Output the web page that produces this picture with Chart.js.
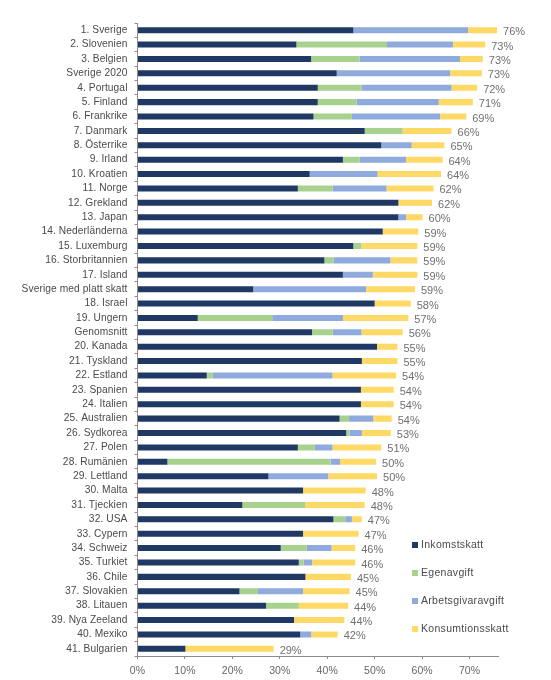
<!DOCTYPE html>
<html>
<head>
<meta charset="utf-8">
<script src="https://cdn.jsdelivr.net/npm/chart.js@4"></script>
<style>
  body { margin: 0; background: #fff; }
  #wrap { width: 551px; height: 680px; position: relative; }
</style>
</head>
<body>
<div id="wrap"><canvas id="skatt"></canvas></div>
<script>
const kategorier = ['1. Sverige','2. Slovenien','3. Belgien','Sverige 2020','4. Portugal','5. Finland','6. Frankrike',
  '7. Danmark','8. Österrike','9. Irland','10. Kroatien','11. Norge','12. Grekland','13. Japan','14. Nederländerna',
  '15. Luxemburg','16. Storbritannien','17. Island','Sverige med platt skatt','18. Israel','19. Ungern','Genomsnitt',
  '20. Kanada','21. Tyskland','22. Estland','23. Spanien','24. Italien','25. Australien','26. Sydkorea','27. Polen',
  '28. Rumänien','29. Lettland','30. Malta','31. Tjeckien','32. USA','33. Cypern','34. Schweiz','35. Turkiet',
  '36. Chile','37. Slovakien','38. Litauen','39. Nya Zeeland','40. Mexiko','41. Bulgarien'];

const inkomstskatt = [45.5,33.5,36.6,42.0,38.0,38.0,37.1,47.9,51.4,43.3,36.3,33.8,55.0,55.0,51.7,45.5,39.4,43.3,24.4,50.0,
  12.7,36.8,50.5,47.3,14.6,47.1,47.1,42.6,44.0,33.8,6.3,27.6,34.9,22.1,41.3,34.9,30.2,34.0,35.4,21.5,27.1,33.0,34.3,10.1];
const egenavgift = [0,19.1,10.2,0,9.2,8.2,8.1,8.0,0,3.5,0,7.3,0,0,0,1.7,1.9,0,0,0,
  15.7,4.3,0,0,1.2,0,0,2.0,0.7,3.6,34.4,0,0,13.3,2.5,0,5.5,1.0,0,3.9,6.9,0,0,0];
const arbetsgivaravgift = [24.2,13.9,21.2,23.9,19.0,17.3,18.6,0,6.4,9.8,14.3,11.4,0,1.6,0,0,12.0,6.3,23.8,0,
  14.9,6.1,0,0,25.3,0,0,5.1,2.6,3.7,2.0,12.6,0,0,1.4,0,5.2,1.8,0,9.5,0,0,2.3,0];
const konsumtionsskatt = [6.1,6.8,4.8,6.7,5.4,7.2,5.5,10.3,6.9,7.7,13.4,9.9,7.1,3.5,7.5,11.8,5.7,9.4,10.3,7.6,
  13.8,8.7,4.3,7.5,13.4,6.9,6.9,3.9,6.1,10.3,7.6,10.3,13.2,12.5,2.1,11.7,5.0,9.1,9.6,9.8,10.4,10.6,5.6,18.6];
const totalEtiketter = ['76%','73%','73%','73%','72%','71%','69%','66%','65%','64%','64%','62%','62%','60%','59%',
  '59%','59%','59%','59%','58%','57%','56%','55%','55%','54%','54%','54%','54%','53%','51%','50%','50%','48%','48%',
  '47%','47%','46%','46%','45%','45%','44%','44%','42%','29%'];
const xTicks = [0,10,20,30,40,50,60,70];

const FONT = "'Liberation Sans', Arial, sans-serif";
const textfarg = '#4a4a4a';
const axelfarg = '#8c8c8c';

// totals on the right of each bar
const totalPlugin = {
  id: 'totaler',
  afterDatasetsDraw(chart) {
    const ctx = chart.ctx;
    const xs = chart.scales.x, ys = chart.scales.y;
    ctx.save();
    ctx.letterSpacing = '0px';
    ctx.font = '11px ' + FONT;
    ctx.fillStyle = '#707070';
    ctx.textBaseline = 'middle';
    ctx.textAlign = 'left';
    for (let i = 0; i < kategorier.length; i++) {
      const sum = inkomstskatt[i] + egenavgift[i] + arbetsgivaravgift[i] + konsumtionsskatt[i];
      ctx.fillText(totalEtiketter[i], xs.getPixelForValue(sum) + 6, ys.getPixelForValue(i) + 2);
    }
    ctx.restore();
  }
};

// legend box in lower right
const legendPlugin = {
  id: 'egenLegend',
  afterDraw(chart) {
    const ctx = chart.ctx;
    ctx.save();
    ctx.letterSpacing = '0.3px';
    ctx.font = '10.5px ' + FONT;
    ctx.textBaseline = 'middle';
    chart.data.datasets.forEach(function(ds, i) {
      const y = 545 + i * 28;
      ctx.fillStyle = ds.backgroundColor;
      ctx.fillRect(412, y - 3, 6, 6);
      ctx.fillStyle = textfarg;
      ctx.fillText(ds.label, 421, y);
    });
    ctx.restore();
  }
};

const spacingPlugin = {
  id: 'spacing',
  beforeDraw(chart) { chart.ctx.letterSpacing = '0.1px'; }
};

new Chart(document.getElementById('skatt'), {
  type: 'bar',
  data: {
    labels: kategorier,
    datasets: [
      { label: 'Inkomstskatt', data: inkomstskatt, backgroundColor: '#1F3864' },
      { label: 'Egenavgift', data: egenavgift, backgroundColor: '#A9D18E' },
      { label: 'Arbetsgivaravgift', data: arbetsgivaravgift, backgroundColor: '#8FAADC' },
      { label: 'Konsumtionsskatt', data: konsumtionsskatt, backgroundColor: '#FFD966' }
    ]
  },
  options: {
    indexAxis: 'y',
    responsive: true,
    maintainAspectRatio: false,
    animation: false,
    layout: { padding: { top: 23, right: 53, left: 0, bottom: 0 } },
    datasets: { bar: { barPercentage: 0.42, categoryPercentage: 1, borderWidth: 0 } },
    plugins: { legend: { display: false }, tooltip: { enabled: false } },
    scales: {
      x: {
        stacked: true,
        min: 0,
        max: 76,
        afterFit(s) { s.height = 24; },
        afterBuildTicks(s) { s.ticks = xTicks.map(v => ({ value: v })); },
        ticks: {
          includeBounds: false,
          padding: 6,
          color: '#666666',
          font: { family: FONT, size: 10.5 },
          callback: v => v + '%'
        },
        grid: { drawOnChartArea: false, tickLength: 3, color: axelfarg },
        border: { color: axelfarg }
      },
      y: {
        stacked: true,
        afterFit(s) { s.width = 137.5; },
        ticks: {
          autoSkip: false,
          padding: 7,
          color: textfarg,
          font: { family: FONT, size: 10.2 }
        },
        grid: { drawOnChartArea: false, tickLength: 3, color: axelfarg, offset: true },
        border: { color: axelfarg }
      }
    }
  },
  plugins: [spacingPlugin, totalPlugin, legendPlugin]
});
</script>
</body>
</html>
